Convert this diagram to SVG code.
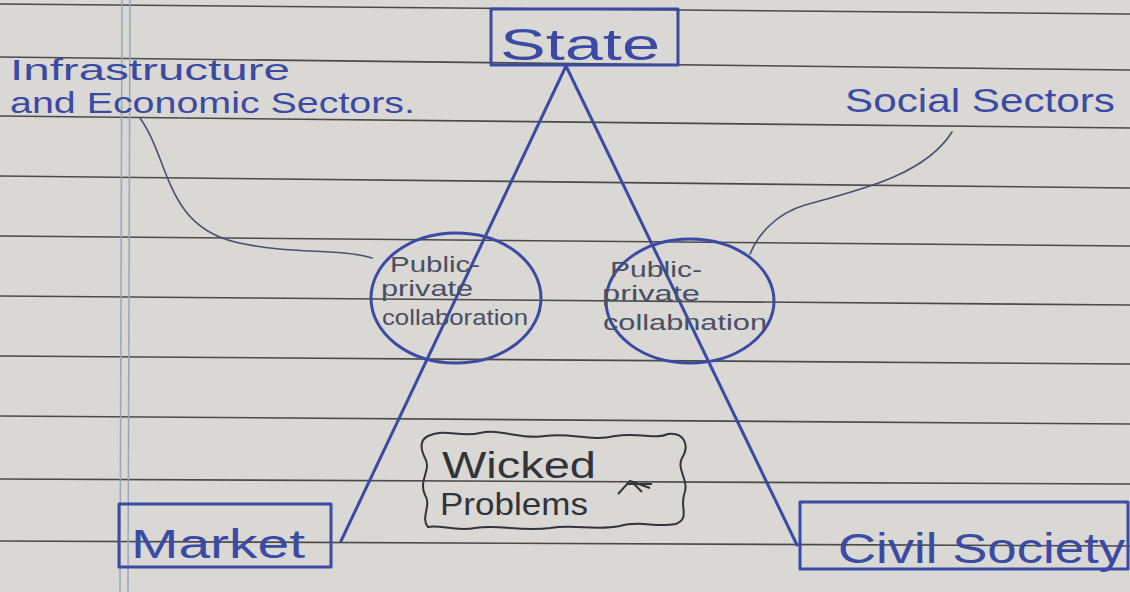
<svg xmlns="http://www.w3.org/2000/svg" width="1130" height="592" viewBox="0 0 1130 592">
<style>
.ink{fill:none;stroke:#3b4aa3;stroke-width:3;stroke-linecap:round;stroke-linejoin:round}
.thin{fill:none;stroke:#4a5070;stroke-width:1.6;stroke-linecap:round}
.rule{stroke:#4a4a4a;stroke-width:1.6}
.lbl{font-family:"Liberation Sans",Arial,sans-serif;fill:#3b4aa3}
.pen{font-family:"Liberation Sans",Arial,sans-serif;fill:#4a4f66}
</style>
<rect width="1130" height="592" fill="#d9d8d4"/>
<g id="paper">
<line class="rule" x1="0" y1="4" x2="1130" y2="14"/>
<line class="rule" x1="0" y1="57" x2="1130" y2="70"/>
<line class="rule" x1="0" y1="116" x2="1130" y2="128"/>
<line class="rule" x1="0" y1="176" x2="1130" y2="188"/>
<line class="rule" x1="0" y1="236" x2="1130" y2="246"/>
<line class="rule" x1="0" y1="296" x2="1130" y2="305"/>
<line class="rule" x1="0" y1="356" x2="1130" y2="364"/>
<line class="rule" x1="0" y1="416" x2="1130" y2="424"/>
<line class="rule" x1="0" y1="479" x2="1130" y2="484"/>
<line class="rule" x1="0" y1="541" x2="1130" y2="546"/>
<line x1="122" y1="0" x2="120" y2="592" stroke="#9aa6b8" stroke-width="1.5"/>
<line x1="130" y1="0" x2="128" y2="592" stroke="#9aa6b8" stroke-width="1.5"/>
</g>
<g id="connectors">
<line class="ink" x1="566" y1="66" x2="341" y2="541" stroke-width="2.6"/>
<line class="ink" x1="566" y1="66" x2="797" y2="545" stroke-width="2.6"/>
<path class="thin" d="M140,118 C170,160 165,225 235,242 C290,255 340,248 372,258"/>
<path class="thin" d="M952,132 C925,175 860,190 805,205 C775,214 758,235 750,254"/>
</g>
<g id="state">
<rect class="ink" x="491" y="9" width="187" height="56"/>
<text class="lbl" x="500" y="60" font-size="44" textLength="160" lengthAdjust="spacingAndGlyphs">State</text>
</g>
<g id="market">
<rect class="ink" x="119" y="504" width="212" height="63"/>
<text class="lbl" x="131" y="558" font-size="40" textLength="174" lengthAdjust="spacingAndGlyphs">Market</text>
</g>
<g id="civil-society">
<rect class="ink" x="800" y="502" width="328" height="67"/>
<text class="lbl" x="838" y="563" font-size="42" textLength="287" lengthAdjust="spacingAndGlyphs">Civil Society</text>
</g>
<g id="infra-label">
<text class="lbl" x="10" y="80" font-size="30" textLength="280" lengthAdjust="spacingAndGlyphs">Infrastructure</text>
<text class="lbl" x="10" y="113" font-size="30" textLength="405" lengthAdjust="spacingAndGlyphs">and Economic Sectors.</text>
</g>
<g id="social-label">
<text class="lbl" x="845" y="112" font-size="34" textLength="270" lengthAdjust="spacingAndGlyphs">Social Sectors</text>
</g>
<g id="ppc-left">
<ellipse class="ink" cx="456" cy="298" rx="85" ry="65"/>
<text class="pen" x="390" y="272" font-size="22" textLength="90" lengthAdjust="spacingAndGlyphs">Public-</text>
<text class="pen" x="381" y="296" font-size="22" textLength="92" lengthAdjust="spacingAndGlyphs">private</text>
<text class="pen" x="382" y="325" font-size="22" textLength="146" lengthAdjust="spacingAndGlyphs">collaboration</text>
</g>
<g id="ppc-right">
<ellipse class="ink" cx="690" cy="301" rx="84" ry="62"/>
<text class="pen" x="610" y="277" font-size="22" textLength="92" lengthAdjust="spacingAndGlyphs">Public-</text>
<text class="pen" x="602" y="301" font-size="22" textLength="98" lengthAdjust="spacingAndGlyphs">private</text>
<text class="pen" x="603" y="330" font-size="22" textLength="164" lengthAdjust="spacingAndGlyphs">collabnation</text>
</g>
<g id="wicked-problems">
<path d="M428,436 C445,428 460,438 480,433 C500,428 520,440 545,436 C570,432 590,442 615,436 C640,432 655,440 668,434 C684,432 690,445 682,458 C676,470 690,480 684,495 C680,508 690,518 676,524 C655,528 640,520 620,526 C595,531 575,524 550,528 C520,532 500,524 475,528 C455,532 440,524 428,527 C420,518 432,505 425,495 C418,480 432,470 425,458 C420,448 420,440 428,436 Z" fill="none" stroke="#33343a" stroke-width="2"/>
<text x="442" y="478" font-size="36" font-family="Liberation Sans, Arial, sans-serif" fill="#33343a" textLength="154" lengthAdjust="spacingAndGlyphs">Wicked</text>
<text x="440" y="515" font-size="32" font-family="Liberation Sans, Arial, sans-serif" fill="#33343a" textLength="148" lengthAdjust="spacingAndGlyphs">Problems</text>
<path d="M618,494 L630,481 L650,488 M626,484 L652,484 M632,482 L642,492" fill="none" stroke="#33343a" stroke-width="2"/>
</g>
</svg>
